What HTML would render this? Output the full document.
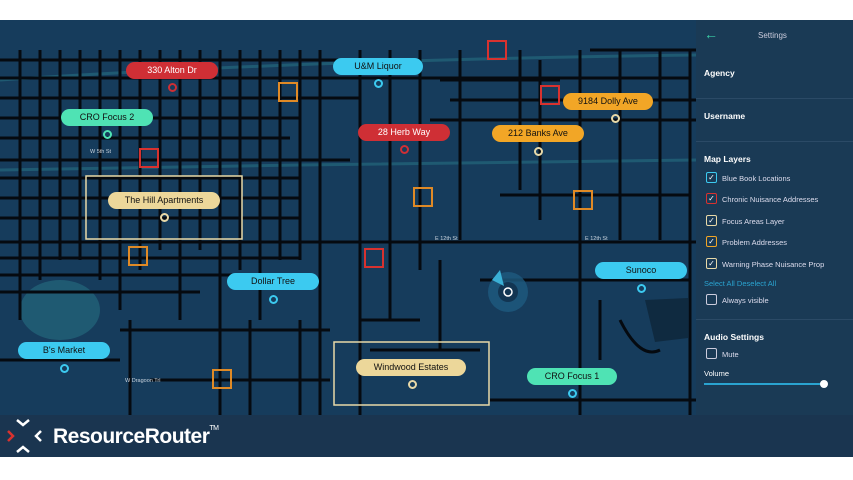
<!DOCTYPE html>
<html><head><meta charset="utf-8"><style>
body{margin:0;width:853px;height:480px;background:#fff;overflow:hidden;font-family:"Liberation Sans",sans-serif;position:relative}
#map{position:absolute;left:0;top:20px;width:696px;height:395px;background:#163c5c;overflow:hidden}
#panel{position:absolute;left:696px;top:20px;width:157px;height:395px;background:#1a3a55;color:#fff;font-size:8px}
#bar{position:absolute;left:0;top:415px;width:853px;height:42px;background:#1a3550}
.pill{position:absolute;height:17px;border-radius:9px;font-size:9px;text-align:center;line-height:17px;color:#111}
.sq{position:absolute;width:20px;height:20px;border:2px solid;box-sizing:border-box}
.dot{position:absolute;width:9px;height:9px;border-radius:50%;border:2px solid;box-sizing:border-box}
.h{position:absolute;left:8px;font-weight:bold;font-size:8.5px}
.cb{position:absolute;left:10px;width:11px;height:11px;border:1.5px solid;border-radius:2px;box-sizing:border-box;font-size:8px;line-height:9px;text-align:center;color:#fff}
.cl{position:absolute;left:26px;font-size:7.5px;color:#dde}
.sep{position:absolute;left:0;width:157px;height:1px;background:#2b4a66}
</style></head><body>
<div id="map">
<svg width="696" height="395" style="position:absolute;left:0;top:0">
<path d="M0 150 L300 145 L696 140" stroke="#1f5a72" stroke-width="3" fill="none"/>
<path d="M0 60 Q300 40 696 35" stroke="#1f5a72" stroke-width="3" fill="none"/>
<ellipse cx="60" cy="290" rx="40" ry="30" fill="#1f5a72"/>
<path d="M645 280 L688 278 L688 318 L655 322 Z" fill="#0f2a40"/>
<g stroke="#050a10" stroke-width="3" fill="none">
<path d="M0 222 H696"/>
<path d="M0 40 H420 M0 58 H690 M0 78 H360 M0 98 H300 M0 118 H290 M0 140 H350 M0 158 H300 M0 178 H300 M0 198 H300 M0 238 H300 M0 255 H300 M0 272 H200"/>
<path d="M430 100 H696 M450 80 H696 M500 175 H690 M590 30 H696 M440 60 H560"/>
<path d="M0 340 H120 M150 360 H330 M490 380 H696 M480 260 H690 M120 310 H330 M360 300 H420"/>
<path d="M20 30 V300 M40 30 V260 M60 30 V240 M80 30 V240 M100 30 V260 M120 30 V290 M140 30 V250 M160 30 V230 M180 30 V300 M200 30 V230 M220 30 V395 M240 30 V250 M260 30 V300 M280 30 V240 M300 30 V240 M320 30 V395"/>
<path d="M360 30 V395 M390 30 V300 M420 30 V250 M460 30 V220 M520 30 V170 M540 40 V200 M580 30 V395 M620 30 V220 M660 30 V220 M690 30 V395"/>
<path d="M130 300 V395 M250 300 V395 M300 300 V395 M440 240 V330 M600 280 V340 M620 300 Q640 340 660 330 M370 330 H480"/>
</g>
<g fill="#c9d3de" font-size="5.5">
<text x="90" y="133">W 5th St</text><text x="435" y="220">E 12th St</text><text x="585" y="220">E 12th St</text><text x="125" y="362">W Dragoon Trl</text>
</g>
<circle cx="508" cy="272" r="20" fill="#1e5a80" opacity=".8"/><circle cx="508" cy="272" r="10" fill="#123552"/>
<circle cx="508" cy="272" r="4" fill="none" stroke="#fff" stroke-width="1.5"/>
<path d="M492 260 L500 250 L504 266 Z" fill="#3ab0d6"/>
<rect x="86" y="156" width="156" height="63" fill="none" stroke="#e8d9a8" stroke-width="1.5"/>
<rect x="334" y="322" width="155" height="63" fill="none" stroke="#e8d9a8" stroke-width="1.5"/>
</svg>
</div>
<div class="sq" style="left:487px;top:40px;border-color:#d8322f"></div>
<div class="sq" style="left:278px;top:82px;border-color:#e08a26"></div>
<div class="sq" style="left:540px;top:85px;border-color:#d8322f"></div>
<div class="sq" style="left:139px;top:148px;border-color:#d8322f"></div>
<div class="sq" style="left:413px;top:187px;border-color:#e08a26"></div>
<div class="sq" style="left:573px;top:190px;border-color:#e08a26"></div>
<div class="sq" style="left:128px;top:246px;border-color:#e08a26"></div>
<div class="sq" style="left:364px;top:248px;border-color:#d8322f"></div>
<div class="sq" style="left:212px;top:369px;border-color:#e08a26"></div>

<div class="pill" style="left:126px;top:62px;width:92px;background:#cf2f35;color:#fff">330 Alton Dr</div>
<div class="dot" style="left:168px;top:83px;border-color:#cf2f35"></div>
<div class="pill" style="left:333px;top:58px;width:90px;background:#3ccaf0">U&amp;M Liquor</div>
<div class="dot" style="left:374px;top:79px;border-color:#3ccaf0"></div>
<div class="pill" style="left:61px;top:109px;width:92px;background:#4fe3b4">CRO Focus 2</div>
<div class="dot" style="left:103px;top:130px;border-color:#4fe3b4"></div>
<div class="pill" style="left:358px;top:124px;width:92px;background:#cf2f35;color:#fff">28 Herb Way</div>
<div class="dot" style="left:400px;top:145px;border-color:#cf2f35"></div>
<div class="pill" style="left:563px;top:93px;width:90px;background:#f2a626">9184 Dolly Ave</div>
<div class="dot" style="left:611px;top:114px;border-color:#e8d9a8"></div>
<div class="pill" style="left:492px;top:125px;width:92px;background:#f2a626">212 Banks Ave</div>
<div class="dot" style="left:534px;top:147px;border-color:#e8d9a8"></div>
<div class="pill" style="left:108px;top:192px;width:112px;background:#ecd79a">The Hill Apartments</div>
<div class="dot" style="left:160px;top:213px;border-color:#e8d9a8"></div>
<div class="pill" style="left:227px;top:273px;width:92px;background:#3ccaf0">Dollar Tree</div>
<div class="dot" style="left:269px;top:295px;border-color:#3ccaf0"></div>
<div class="pill" style="left:595px;top:262px;width:92px;background:#3ccaf0">Sunoco</div>
<div class="dot" style="left:637px;top:284px;border-color:#3ccaf0"></div>
<div class="pill" style="left:18px;top:342px;width:92px;background:#3ccaf0">B's Market</div>
<div class="dot" style="left:60px;top:364px;border-color:#3ccaf0"></div>
<div class="pill" style="left:356px;top:359px;width:110px;background:#ecd79a">Windwood Estates</div>
<div class="dot" style="left:408px;top:380px;border-color:#e8d9a8"></div>
<div class="pill" style="left:527px;top:368px;width:90px;background:#4fe3b4">CRO Focus 1</div>
<div class="dot" style="left:568px;top:389px;border-color:#3ccaf0"></div>

<div id="panel">
<div style="position:absolute;left:8px;top:6px;color:#3bd0a8;font-size:14px">←</div>
<div style="position:absolute;left:62px;top:11px;color:#ccd">Settings</div>
<div class="h" style="top:48px">Agency</div>
<div class="sep" style="top:78px"></div>
<div class="h" style="top:91px">Username</div>
<div class="sep" style="top:121px"></div>
<div class="h" style="top:134px">Map Layers</div>
<div class="cb" style="top:152px;border-color:#3ccaf0">✓</div><div class="cl" style="top:154px">Blue Book Locations</div>
<div class="cb" style="top:173px;border-color:#d8322f">✓</div><div class="cl" style="top:175px">Chronic Nuisance Addresses</div>
<div class="cb" style="top:195px;border-color:#e8d9a8">✓</div><div class="cl" style="top:197px">Focus Areas Layer</div>
<div class="cb" style="top:216px;border-color:#f2a626">✓</div><div class="cl" style="top:218px">Problem Addresses</div>
<div class="cb" style="top:238px;border-color:#e8d9a8">✓</div><div class="cl" style="top:240px">Warning Phase Nuisance Prop</div>
<div style="position:absolute;left:8px;top:259px;color:#2aa3d0;font-size:7.5px">Select All  Deselect All</div>
<div class="cb" style="top:274px;border-color:#ccd"></div><div class="cl" style="top:276px">Always visible</div>
<div class="sep" style="top:299px"></div>
<div class="h" style="top:312px">Audio Settings</div>
<div class="cb" style="top:328px;border-color:#ccd"></div><div class="cl" style="top:330px">Mute</div>
<div style="position:absolute;left:8px;top:349px;font-size:7.5px">Volume</div>
<div style="position:absolute;left:8px;top:363px;width:120px;height:2px;background:#2aa3d0"></div>
<div style="position:absolute;left:124px;top:360px;width:8px;height:8px;border-radius:50%;background:#fff"></div>
</div>

<div id="bar">
<svg width="50" height="42" style="position:absolute;left:0;top:0">
<g fill="none" stroke-width="2.5">
<path d="M8 16 L13 21 L8 26" stroke="#d8322f"/>
<path d="M17 5 L23 10 L29 5" stroke="#fff"/>
<path d="M17 37 L23 32 L29 37" stroke="#fff"/>
<path d="M41 16 L36 21 L41 26" stroke="#fff"/>
</g>
</svg>
<div style="position:absolute;left:53px;top:10px;color:#fff;font-size:21px;font-weight:bold;letter-spacing:-0.5px">ResourceRouter<span style="font-size:7px;vertical-align:top;font-weight:normal">TM</span></div>
</div>
</body></html>
